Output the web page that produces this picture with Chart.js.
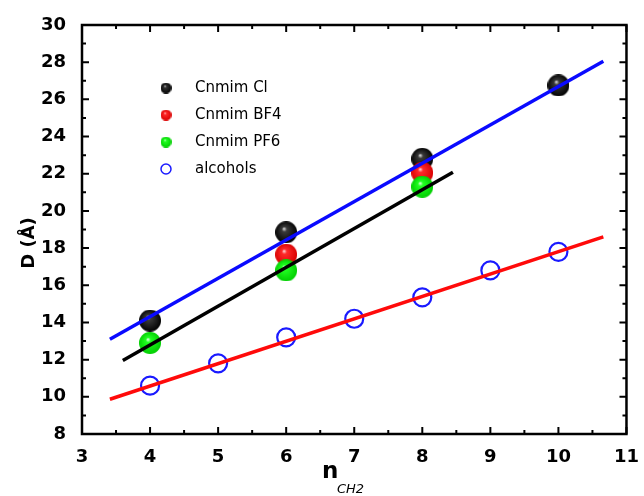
<!DOCTYPE html>
<html>
<head>
<meta charset="utf-8">
<script src="https://cdn.jsdelivr.net/npm/chart.js@4/dist/chart.umd.min.js"></script>
<style>
  html, body { margin: 0; padding: 0; background: #fff; }
  #wrap { width: 644px; height: 496px; }
</style>
</head>
<body>
<div id="wrap"><canvas id="c" width="644" height="496"></canvas></div>
<script>
// data
const clX = [4, 6, 8, 10];
const clY = [14.1, 18.85, 22.8, 26.75];
const bf4X = [6, 8];
const bf4Y = [17.65, 22.05];
const pf6X = [4, 6, 8];
const pf6Y = [12.9, 16.8, 21.3];
const alcX = [4, 5, 6, 7, 8, 9, 10];
const alcY = [10.6, 11.8, 13.2, 14.2, 15.35, 16.8, 17.8];

// linear fits (end points)
const fitBlueX = [3.41, 10.66];
const fitBlueY = [13.1, 28.05];
const fitBlackX = [3.6, 8.45];
const fitBlackY = [11.95, 22.08];
const fitRedX = [3.41, 10.66];
const fitRedY = [9.87, 18.6];

const xTicks = [3, 4, 5, 6, 7, 8, 9, 10, 11];
const yTicks = [8, 10, 12, 14, 16, 18, 20, 22, 24, 26, 28, 30];

const FONT = "'DejaVu Sans', sans-serif";

const pts = (xs, ys) => xs.map((x, i) => ({ x: x, y: ys[i] }));

// shaded ball used as a point marker
function sphere(light, mid, dark, d) {
  const c = document.createElement('canvas');
  c.width = c.height = d;
  const ctx = c.getContext('2d');
  const g = ctx.createRadialGradient(d * 0.4, d * 0.33, 0, d * 0.5, d * 0.5, d * 0.52);
  g.addColorStop(0, light);
  g.addColorStop(0.22, mid);
  g.addColorStop(1, dark);
  ctx.fillStyle = g;
  ctx.beginPath();
  ctx.arc(d / 2, d / 2, d / 2, 0, Math.PI * 2);
  ctx.fill();
  return c;
}

const balls = {
  cl: [sphere('#f0f0f0', '#3a3a3a', '#000', 22), sphere('#eee', '#333', '#000', 11)],
  bf4: [sphere('#fff0f0', '#ff2a2a', '#d80000', 22), sphere('#fff0f0', '#ff2a2a', '#d80000', 11)],
  pf6: [sphere('#f0fff0', '#22ff22', '#00cc00', 22), sphere('#f0fff0', '#22ff22', '#00cc00', 11)]
};

// legend inside the plot, plus inward ticks, frame and axis titles
const decor = {
  id: 'decor',
  afterDraw(chart) {
    const ctx = chart.ctx;
    const a = chart.chartArea;
    const xs = chart.scales.x, ys = chart.scales.y;
    ctx.save();
    ctx.strokeStyle = '#000';
    ctx.lineWidth = 2.5;
    ctx.strokeRect(a.left, a.top, a.right - a.left, a.bottom - a.top);
    ctx.lineWidth = 2;
    ctx.beginPath();
    for (let v = 3; v <= 11.001; v += 0.5) {
      const p = xs.getPixelForValue(v);
      const len = Math.abs(v - Math.round(v)) < 0.01 ? 7 : 4;
      ctx.moveTo(p, a.bottom); ctx.lineTo(p, a.bottom - len);
      ctx.moveTo(p, a.top); ctx.lineTo(p, a.top + len);
    }
    for (let v = 8; v <= 30.001; v += 1) {
      const p = ys.getPixelForValue(v);
      const len = v % 2 === 0 ? 7 : 4;
      ctx.moveTo(a.left, p); ctx.lineTo(a.left + len, p);
      ctx.moveTo(a.right, p); ctx.lineTo(a.right - len, p);
    }
    ctx.stroke();

    // axis titles
    ctx.fillStyle = '#000';
    ctx.font = 'bold 23px ' + FONT;
    ctx.textBaseline = 'alphabetic';
    ctx.textAlign = 'left';
    ctx.fillText('n', 322, 478);
    ctx.font = 'italic 13px ' + FONT;
    ctx.fillText('CH2', 337, 493);

    ctx.translate(29, 243);
    ctx.rotate(-Math.PI / 2);
    ctx.textAlign = 'center';
    ctx.textBaseline = 'middle';
    ctx.font = 'bold 18px ' + FONT;
    ctx.fillText('D (Å)', 0, 0);
    ctx.setTransform(1, 0, 0, 1, 0, 0);

    // legend
    const items = chart.data.datasets.filter(d => d.legendMark);
    ctx.font = '15px ' + FONT;
    ctx.textAlign = 'left';
    ctx.textBaseline = 'middle';
    items.forEach((d, i) => {
      const y = 88 + i * 27;
      if (d.legendMark === 'ring') {
        ctx.strokeStyle = '#1a1aff';
        ctx.lineWidth = 1.5;
        ctx.beginPath();
        ctx.arc(166, y, 5, 0, Math.PI * 2);
        ctx.stroke();
      } else {
        ctx.drawImage(d.legendMark, 166 - 5.5, y - 5.5);
      }
      ctx.fillStyle = '#000';
      ctx.fillText(d.label, 195, y);
    });
    ctx.restore();
  }
};

new Chart(document.getElementById('c'), {
  type: 'scatter',
  data: {
    datasets: [
      { label: 'Cnmim Cl', data: pts(clX, clY), pointStyle: balls.cl[0], legendMark: balls.cl[1], order: 4 },
      { label: 'Cnmim BF4', data: pts(bf4X, bf4Y), pointStyle: balls.bf4[0], legendMark: balls.bf4[1], order: 3 },
      { label: 'Cnmim PF6', data: pts(pf6X, pf6Y), pointStyle: balls.pf6[0], legendMark: balls.pf6[1], order: 2 },
      { label: 'alcohols', data: pts(alcX, alcY), pointStyle: 'circle', pointRadius: 9, borderColor: '#1a1aff',
        backgroundColor: 'rgba(0,0,0,0)', pointBorderWidth: 2.2, legendMark: 'ring', order: 2 },
      { label: 'fit Cl', data: pts(fitBlueX, fitBlueY), showLine: true, pointRadius: 0, borderColor: '#0a0aff', borderWidth: 3.5, order: 0 },
      { label: 'fit IL', data: pts(fitBlackX, fitBlackY), showLine: true, pointRadius: 0, borderColor: '#000', borderWidth: 3.5, order: 0 },
      { label: 'fit alc', data: pts(fitRedX, fitRedY), showLine: true, pointRadius: 0, borderColor: '#ff0a0a', borderWidth: 3.5, order: 0 }
    ]
  },
  options: {
    responsive: false,
    animation: false,
    events: [],
    layout: { padding: { top: 25, right: 12, left: 0, bottom: 0 } },
    plugins: { legend: { display: false }, tooltip: { enabled: false } },
    scales: {
      x: {
        type: 'linear', min: 3, max: 11,
        afterFit: s => { s.height = 62; },
        afterBuildTicks: s => { s.ticks = xTicks.map(v => ({ value: v })); },
        grid: { display: false }, border: { display: false },
        ticks: { color: '#000', font: { family: FONT, size: 18, weight: 'bold' }, padding: 5, maxRotation: 0 }
      },
      y: {
        type: 'linear', min: 8, max: 30,
        afterFit: s => { s.width = 82; },
        afterBuildTicks: s => { s.ticks = yTicks.map(v => ({ value: v })); },
        grid: { display: false }, border: { display: false },
        ticks: { color: '#000', font: { family: FONT, size: 18, weight: 'bold' }, padding: 8 }
      }
    }
  },
  plugins: [decor]
});
</script>
</body>
</html>
